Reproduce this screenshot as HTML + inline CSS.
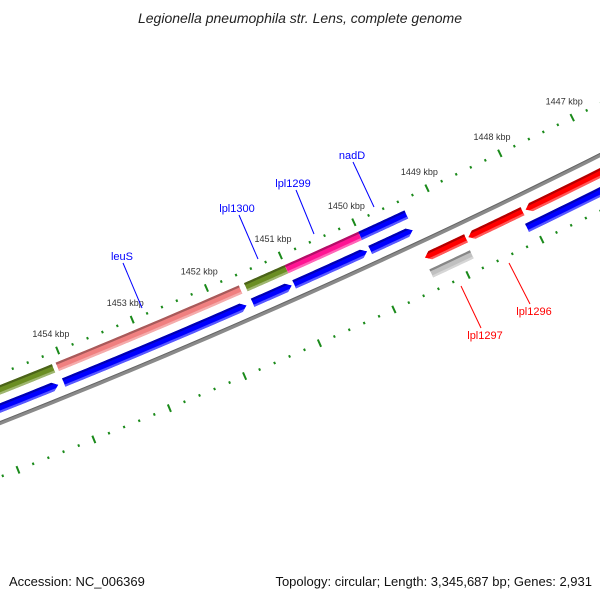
<!DOCTYPE html>
<html><head><meta charset="utf-8"><style>
html,body{margin:0;padding:0;background:#fff;}
svg{display:block;font-family:"Liberation Sans",sans-serif;}
</style></head><body>
<svg id="map" width="600" height="600" viewBox="0 0 600 600" xmlns="http://www.w3.org/2000/svg">
<rect width="600" height="600" fill="#fff"/>
<text x="300" y="23" text-anchor="middle" font-size="14" font-style="italic" fill="#222">Legionella pneumophila str. Lens, complete genome</text>
<defs id="defs"></defs>
<g id="ticks"></g>
<g id="features"></g>
<g id="labels">
<line x1="123" y1="263" x2="142" y2="308" stroke="#0000ff" stroke-width="1"/>
<text x="122" y="260" text-anchor="middle" font-size="11" fill="#0000ff">leuS</text>
<line x1="239" y1="215" x2="258" y2="259" stroke="#0000ff" stroke-width="1"/>
<text x="237" y="212" text-anchor="middle" font-size="11" fill="#0000ff">lpl1300</text>
<line x1="296" y1="190" x2="314" y2="234" stroke="#0000ff" stroke-width="1"/>
<text x="293" y="187" text-anchor="middle" font-size="11" fill="#0000ff">lpl1299</text>
<line x1="353" y1="162" x2="374" y2="207" stroke="#0000ff" stroke-width="1"/>
<text x="352" y="159" text-anchor="middle" font-size="11" fill="#0000ff">nadD</text>
<line x1="461" y1="286" x2="481" y2="328" stroke="#ff0000" stroke-width="1"/>
<text x="485" y="339" text-anchor="middle" font-size="11" fill="#ff0000">lpl1297</text>
<line x1="509" y1="263" x2="530" y2="304" stroke="#ff0000" stroke-width="1"/>
<text x="534" y="315" text-anchor="middle" font-size="11" fill="#ff0000">lpl1296</text>
</g>
<text x="9" y="586" font-size="13" fill="#111">Accession: NC_006369</text>
<text x="592" y="586" text-anchor="end" font-size="13" fill="#111">Topology: circular; Length: 3,345,687 bp; Genes: 2,931</text>
</svg>
<script>
// ---- data ----
const majorTicks = [1443,1444,1445,1446,1447,1448,1449,1450,1451,1452,1453,1454,1455,1456,1457,1458];
const tickLabels = ["1447 kbp","1448 kbp","1449 kbp","1450 kbp","1451 kbp","1452 kbp","1453 kbp","1454 kbp"];
const tickLabelPos = [1447,1448,1449,1450,1451,1452,1453,1454];
const featNames  = ["olive-a","leuS","lpl1300","lpl1299","nadD","orf-a","orf-b","orf-c","orf-d","orf-e","red-a","red-b","red-c","lpl1297","orf-f"];
const featStart  = [1457,1454.08,1451.55,1451.0,1450.0,1457,1454.08,1451.55,1450.99,1449.96,1449.39,1448.80,1448.02,1449.40,1448.10];
const featEnd    = [1454.13,1451.62,1451.0,1450.0,1449.37,1454.15,1451.63,1451.02,1450.0,1449.38,1448.83,1448.06,1444.5,1448.85,1444.5];
const featRow    = [0,0,0,0,0,1,1,1,1,1,2,2,2,3,3];
const featArrow  = ["none","none","none","none","none","low","low","low","low","low","high","high","high","none","low"];
const featColor  = ["#6b8e23","#f08080","#6b8e23","#ff1493","#0000ff","#0000ff","#0000ff","#0000ff","#0000ff","#0000ff","#ff0000","#ff0000","#ff0000","#c0c0c0","#0000ff"];

// ---- geometry ----
const CX=-2738, CY=-6513, A0=63.47, DEG_PER_KBP=0.624;
const rowR=[7426,7443,7473,7490], HALF=4.5;
const NS="http://www.w3.org/2000/svg";
function pt(k,r){const a=(A0+(k-1447)*DEG_PER_KBP)*Math.PI/180;return [CX+r*Math.cos(a),CY+r*Math.sin(a)];}
function arcPts(k1,k2,r,n){const p=[];for(let i=0;i<=n;i++){p.push(pt(k1+(k2-k1)*i/n,r));}return p;}
function str(p){return p.map(q=>q[0].toFixed(2)+","+q[1].toFixed(2)).join(" ");}
function shade(hex,f){let n=parseInt(hex.slice(1),16);let r=n>>16,g=(n>>8)&255,b=n&255;
 if(f<0){r*=1+f;g*=1+f;b*=1+f;}else{r+=(255-r)*f;g+=(255-g)*f;b+=(255-b)*f;}
 return "rgb("+Math.round(r)+","+Math.round(g)+","+Math.round(b)+")";}

const svg=document.getElementById('map');
const defs=document.getElementById('defs');
const tg=document.getElementById('ticks');
const fg=document.getElementById('features');

// backbone
const bb=document.createElementNS(NS,'polyline');


bb.setAttribute('points',str(arcPts(1442,1460,7457,60)));
bb.setAttribute('fill','none');bb.setAttribute('stroke','#8a8a8a');bb.setAttribute('stroke-width','4');
fg.appendChild(bb);
const bb2=document.createElementNS(NS,'polyline');


bb2.setAttribute('points',str(arcPts(1442,1460,7455.5,60)));
bb2.setAttribute('fill','none');bb2.setAttribute('stroke','#666');bb2.setAttribute('stroke-width','1');
fg.appendChild(bb2);

// ticks (two rings)
function tick(k,r,len,w,name){
 const a=pt(k,r-len/2),b=pt(k,r+len/2);
 const l=document.createElementNS(NS,'line');
 
 
 l.setAttribute('x1',a[0]);l.setAttribute('y1',a[1]);l.setAttribute('x2',b[0]);l.setAttribute('y2',b[1]);
 l.setAttribute('stroke','#1a8a1a');l.setAttribute('stroke-width',w);
 tg.appendChild(l);
}
majorTicks.forEach(k=>{
 tick(k,7411,8,2,'major-tick-outer');
 tick(k,7507,8,2,'major-tick-inner');
 for(let j=1;j<5;j++){tick(k+j*0.2,7411,2.5,2,'minor-tick-outer');tick(k+j*0.2,7507,2.5,2,'minor-tick-inner');}
});
tickLabels.forEach((t,i)=>{
 const p=pt(tickLabelPos[i],7393);
 const tx=document.createElementNS(NS,'text');
 
 
 tx.setAttribute('x',p[0]);tx.setAttribute('y',p[1]+3);
 tx.setAttribute('text-anchor','middle');tx.setAttribute('font-size','9');tx.setAttribute('fill','#333');
 tx.textContent=t;tg.appendChild(tx);
});

// features
featNames.forEach((nm,i)=>{
 const rc=rowR[featRow[i]], ri=rc-HALF, ro=rc+HALF, k1=featStart[i], k2=featEnd[i];
 const h=0.075; let pts;
 if(featArrow[i]==="low"){
  pts=arcPts(k1,k2+h,ri,30).concat([pt(k2,rc)]).concat(arcPts(k2+h,k1,ro,30));
 }else if(featArrow[i]==="high"){
  pts=[pt(k1,rc)].concat(arcPts(k1-h,k2,ri,30)).concat(arcPts(k2,k1-h,ro,30));
 }else{
  pts=arcPts(k1,k2,ri,30).concat(arcPts(k2,k1,ro,30));
 }
 const cp=document.createElementNS(NS,'clipPath');cp.setAttribute('id','cp'+i);
 const cpp=document.createElementNS(NS,'polygon');cpp.setAttribute('points',str(pts));cp.appendChild(cpp);defs.appendChild(cp);
 const g=document.createElementNS(NS,'g');
 
 
 g.setAttribute('clip-path','url(#cp'+i+')');
 const base=document.createElementNS(NS,'polygon');
 
 
 base.setAttribute('points',str(pts));base.setAttribute('fill',featColor[i]);g.appendChild(base);
 const dark=document.createElementNS(NS,'polyline');
 
 
 dark.setAttribute('points',str(arcPts(k1+0.1,k2-0.1,ri+1,30)));
 dark.setAttribute('fill','none');dark.setAttribute('stroke',shade(featColor[i],-0.3));dark.setAttribute('stroke-width','2.5');g.appendChild(dark);
 const light=document.createElementNS(NS,'polyline');
 
 
 light.setAttribute('points',str(arcPts(k1+0.1,k2-0.1,ro-1,30)));
 light.setAttribute('fill','none');light.setAttribute('stroke',shade(featColor[i],0.35));light.setAttribute('stroke-width','2.5');g.appendChild(light);
 fg.appendChild(g);
});
</script>
</body></html>
